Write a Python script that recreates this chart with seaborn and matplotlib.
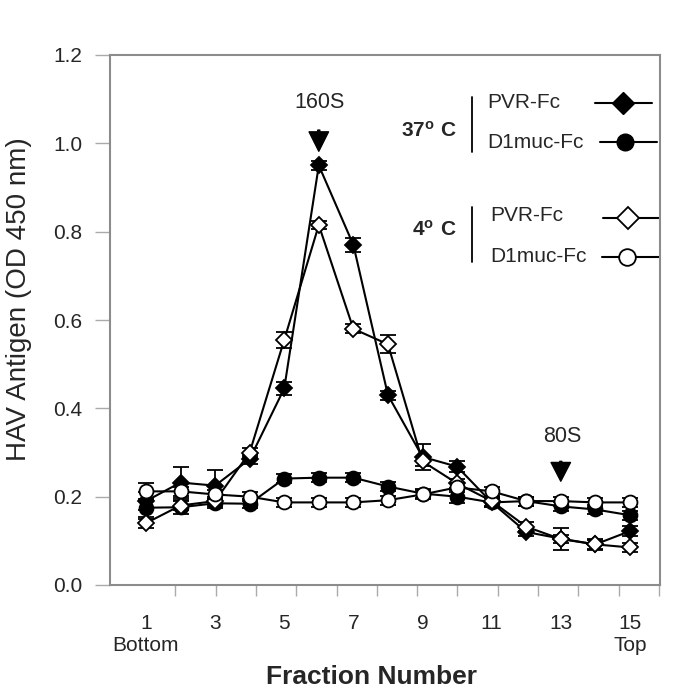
import numpy as np
import pandas as pd
import matplotlib
matplotlib.use('Agg')
import matplotlib.pyplot as plt
import seaborn as sns

# fraction numbers (bottom -> top of gradient)
fractions = list(range(1, 16))

# HAV antigen, OD 450 nm
pvr_37 = [0.19, 0.232, 0.225, 0.285, 0.445, 0.95, 0.77, 0.43, 0.29, 0.268, 0.187, 0.12, 0.105, 0.092, 0.122]
d1muc_37 = [0.175, 0.176, 0.185, 0.184, 0.241, 0.243, 0.243, 0.223, 0.207, 0.2, 0.187, 0.19, 0.178, 0.171, 0.158]
pvr_4 = [0.14, 0.18, 0.19, 0.30, 0.555, 0.815, 0.58, 0.545, 0.28, 0.23, 0.19, 0.132, 0.104, 0.092, 0.085]
d1muc_4 = [0.212, 0.212, 0.205, 0.2, 0.187, 0.187, 0.187, 0.192, 0.205, 0.221, 0.212, 0.19, 0.19, 0.187, 0.187]

pvr_37_err = [0.02, 0.035, 0.035, 0.01, 0.015, 0.01, 0.015, 0.01, 0.03, 0.012, 0.01, 0.01, 0.025, 0.013, 0.012]
d1muc_37_err = [0.02, 0.016, 0.01, 0.01, 0.01, 0.01, 0.01, 0.01, 0.01, 0.015, 0.01, 0.01, 0.01, 0.01, 0.01]
pvr_4_err = [0.01, 0.01, 0.01, 0.01, 0.018, 0.01, 0.01, 0.02, 0.01, 0.01, 0.01, 0.01, 0.01, 0.01, 0.01]
d1muc_4_err = [0.02, 0.01, 0.01, 0.01, 0.01, 0.01, 0.01, 0.01, 0.01, 0.01, 0.01, 0.01, 0.01, 0.01, 0.01]

y_ticks = [0.0, 0.2, 0.4, 0.6, 0.8, 1.0, 1.2]
x_ticks = [1, 3, 5, 7, 9, 11, 13, 15]
x_ticklabels = ['1\nBottom', '3', '5', '7', '9', '11', '13', '15\nTop']

sns.set_style('white')
plt.rcParams['font.family'] = ['Liberation Sans', 'DejaVu Sans']
plt.rcParams['mathtext.fontset'] = 'custom'
plt.rcParams['mathtext.rm'] = 'Liberation Sans'
plt.rcParams['mathtext.bf'] = 'Liberation Sans:bold'

fig = plt.figure(figsize=(6.85, 7.0), dpi=100)
ax = fig.add_axes([110/685, 1-585/700, 550/685, 530/700])

series = [
    (pvr_37, pvr_37_err, 'D', 'black', 8.5),
    (d1muc_37, d1muc_37_err, 'o', 'black', 10),
    (pvr_4, pvr_4_err, 'D', 'white', 8.5),
    (d1muc_4, d1muc_4_err, 'o', 'white', 10),
]
for i, (vals, err, mk, fc, ms) in enumerate(series):
    df = pd.DataFrame({'Fraction': fractions, 'OD': vals})
    ax.errorbar(fractions, vals, yerr=err, fmt='none', ecolor='black',
                elinewidth=1.3, capsize=6, capthick=1.3, zorder=2 + i*2)
    sns.lineplot(data=df, x='Fraction', y='OD', ax=ax, color='black', linewidth=1.5,
                 marker=mk, markersize=ms, markerfacecolor=fc, markeredgecolor='black',
                 markeredgewidth=1.3, errorbar=None, zorder=3 + i*2)

ax.set_xlim(-0.04, 15.87)
ax.set_ylim(0, 1.2)
ax.set_yticks(y_ticks)
ax.set_yticklabels([f'{v:.1f}' for v in y_ticks])
ax.set_xticks(x_ticks)
ax.set_xticklabels(x_ticklabels)
ax.set_xticks(np.linspace(1.85, 15.84, 13), minor=True)

for s in ax.spines.values():
    s.set_color('#8c8c8c')
    s.set_linewidth(1.5)
ax.tick_params(axis='y', direction='out', length=11, width=1, color='#aaaaaa',
               labelsize=15, pad=9, left=True)
ax.tick_params(axis='x', which='major', length=0, labelsize=15, pad=21, bottom=True)
ax.tick_params(axis='x', which='minor', direction='out', length=8, width=1,
               color='#aaaaaa', bottom=True)

ax.set_ylabel('HAV Antigen (OD 450 nm)', fontsize=20)
ax.yaxis.set_label_coords(-0.142, 0.54)
ax.set_xlabel('Fraction Number', fontsize=19, fontweight='bold')
ax.xaxis.set_label_coords(0.476, -0.151)

# sedimentation markers
ax.text(6.03, 1.093, '160S', fontsize=15.5, ha='center', va='center')
ax.annotate('', xy=(6, 0.982), xytext=(6, 1.03),
            arrowprops=dict(facecolor='black', edgecolor='black', width=1.5,
                            headwidth=14, headlength=14, shrink=0))
ax.text(13.03, 0.337, '80S', fontsize=15.5, ha='center', va='center')
ax.annotate('', xy=(13, 0.235), xytext=(13, 0.28),
            arrowprops=dict(facecolor='black', edgecolor='black', width=1.5,
                            headwidth=14, headlength=13.5, shrink=0))

# hand-drawn legend in axes fraction
tr = ax.transAxes
ax.text(0.631, 0.858, r'$\mathbf{37^{o}\ C}$', transform=tr, fontsize=15, ha='right', va='center')
ax.plot([0.658, 0.658], [0.817, 0.921], transform=tr, color='black', lw=1.3)
ax.text(0.685, 0.911, 'PVR-Fc', transform=tr, fontsize=15, ha='left', va='center')
ax.plot([0.882, 0.985], [0.909, 0.909], transform=tr, color='black', lw=1.5)
ax.plot([0.933], [0.909], transform=tr, marker='D', ms=11, mfc='black', mec='black')
ax.text(0.685, 0.834, 'D1muc-Fc', transform=tr, fontsize=15, ha='left', va='center')
ax.plot([0.891, 0.995], [0.836, 0.836], transform=tr, color='black', lw=1.5)
ax.plot([0.936], [0.836], transform=tr, marker='o', ms=12, mfc='black', mec='black')

ax.text(0.631, 0.670, r'$\mathbf{4^{o}\ C}$', transform=tr, fontsize=15, ha='right', va='center')
ax.plot([0.658, 0.658], [0.609, 0.713], transform=tr, color='black', lw=1.3)
ax.text(0.691, 0.698, 'PVR-Fc', transform=tr, fontsize=15, ha='left', va='center')
ax.plot([0.896, 1.0], [0.692, 0.692], transform=tr, color='black', lw=1.5)
ax.plot([0.942], [0.692], transform=tr, marker='D', ms=11, mfc='white', mec='black', mew=1.3)
ax.text(0.691, 0.619, 'D1muc-Fc', transform=tr, fontsize=15, ha='left', va='center')
ax.plot([0.895, 1.0], [0.619, 0.619], transform=tr, color='black', lw=1.5)
ax.plot([0.94], [0.619], transform=tr, marker='o', ms=12, mfc='white', mec='black', mew=1.3)

fig.savefig('out.png', dpi=100)
